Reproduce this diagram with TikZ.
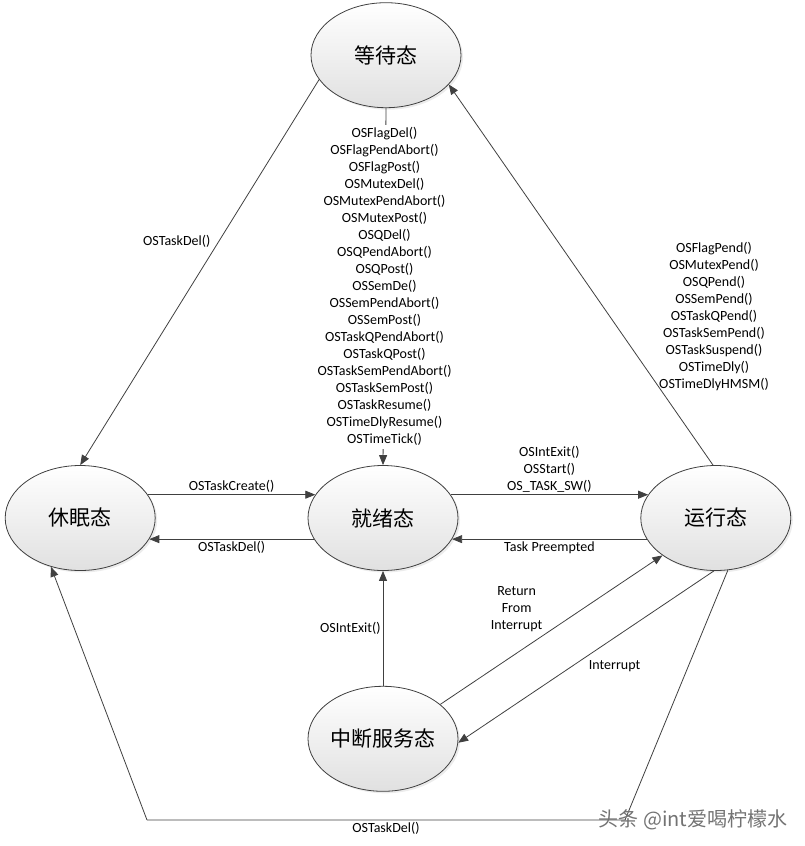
\documentclass[tikz,border=0pt]{standalone}
\usepackage{fontspec}
\setmainfont{Carlito}
\newfontfamily\cjk{Noto Sans CJK SC}
\usetikzlibrary{shapes.geometric,arrows.meta,positioning,shadows}
\definecolor{edgegray}{HTML}{404040}

\begin{document}
\begin{tikzpicture}[
    x=1pt, y=-1pt,
    state/.style={ellipse, draw=edgegray, line width=0.8pt, minimum width=150pt, minimum height=105pt,
        inner sep=0pt, top color=white, bottom color=black!12, font=\cjk\fontsize{21}{24}\selectfont,
        drop shadow={opacity=0.15, shadow xshift=2pt, shadow yshift=-2pt}},
    line/.style={draw=edgegray, line width=0.8pt, -{Triangle[length=10pt,width=8pt]}},
    plain/.style={draw=edgegray, line width=0.8pt},
    lbl/.style={font=\fontsize{14}{17}\selectfont, align=center, inner sep=2pt},
    mark text/.style={font=\cjk\fontsize{20}{22}\selectfont, text=black!55}
]
    \useasboundingbox (0,0) rectangle (805,846);

    % Place nodes
    \node [state] at (383,518)               (ready) {就绪态};
    \node [state, left=152pt of ready]       (sleep) {休眠态};
    \node [state, right=182pt of ready]      (run)   {运行态};
    \node [state, above=357pt of ready, xshift=3pt] (wait) {等待态};
    \node [state, below=115pt of ready]      (isr)   {中断服务态};

    \coordinate (del right) at (625,820);
    \coordinate (del left)  at (147,820);

    % Draw edges
    \path [line] (wait.200) -- (sleep.north) node [lbl, pos=0.42, left=6pt] {OSTaskDel()};
    \path [line] (wait.south) -- (ready.north) node [lbl, midway, fill=white, inner sep=3pt]
        {OSFlagDel()\\OSFlagPendAbort()\\OSFlagPost()\\OSMutexDel()\\OSMutexPendAbort()\\OSMutexPost()\\OSQDel()\\OSQPendAbort()\\OSQPost()\\OSSemDe()\\OSSemPendAbort()\\OSSemPost()\\OSTaskQPendAbort()\\OSTaskQPost()\\OSTaskSemPendAbort()\\OSTaskSemPost()\\OSTaskResume()\\OSTimeDlyResume()\\OSTimeTick()};
    \path [line] (run.93) -- (wait.-25) node [lbl, pos=0.19, anchor=south west, xshift=-6pt]
        {OSFlagPend()\\OSMutexPend()\\OSQPend()\\OSSemPend()\\OSTaskQPend()\\OSTaskSemPend()\\OSTaskSuspend()\\OSTimeDly()\\OSTimeDlyHMSM()};
    \path [line] (sleep.19) -- (ready.161) node [lbl, midway, above] {OSTaskCreate()};
    \path [line] (ready.197) -- (sleep.-17) node [lbl, midway, below] {OSTaskDel()};
    \path [line] (ready.19) -- (run.161) node [lbl, midway, above] {OSIntExit()\\OSStart()\\OS\_TASK\_SW()};
    \path [line] (run.197) -- (ready.-17) node [lbl, midway, below] {Task Preempted};
    \path [line] (isr.north) -- (ready.south) node [lbl, midway, left] {OSIntExit()};
    \path [line] (isr.31) -- (run.215) node [lbl, pos=0.47, anchor=south east] {Return\\From\\Interrupt};
    \path [line] (run.268) -- (isr.-3) node [lbl, pos=0.51, anchor=north west, xshift=3pt] {Interrupt};
    \path [plain] (run.283) -- (del right) -- (del left) node [lbl, midway, below] {OSTaskDel()};
    \path [line] (del left) -- (sleep.239);

    % Watermark
    \node [mark text] (mark) at (693,820) {头条 @int爱喝柠檬水};
\end{tikzpicture}
\end{document}
